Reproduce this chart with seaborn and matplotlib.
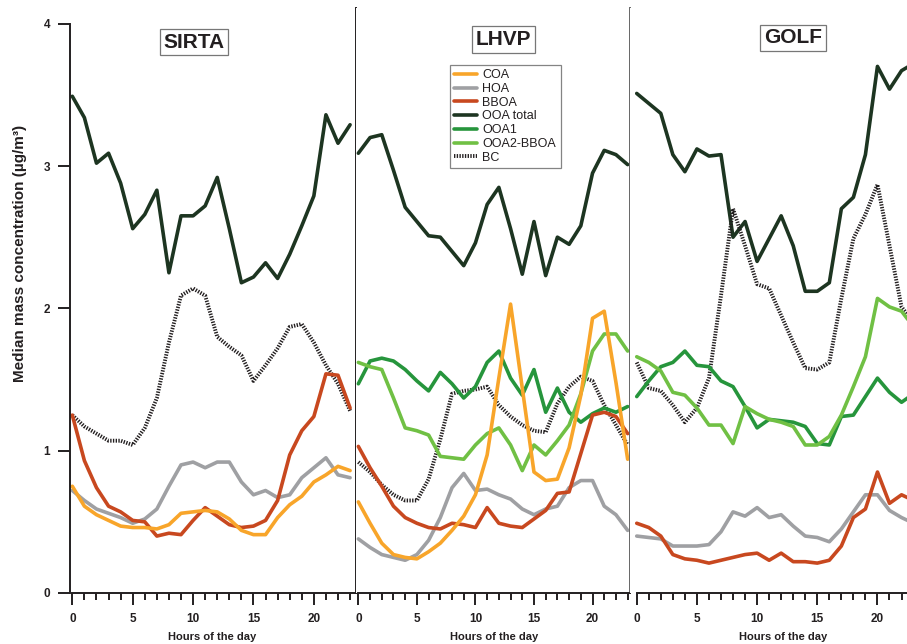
import numpy as np
import pandas as pd
import matplotlib
matplotlib.use("Agg")
import matplotlib.pyplot as plt
from matplotlib.ticker import MultipleLocator
import seaborn as sns

hours = list(range(24))

# --- SIRTA ---
sirta_coa = [0.75, 0.61, 0.55, 0.51, 0.47, 0.46, 0.46, 0.45, 0.48, 0.56, 0.57, 0.58,
             0.57, 0.52, 0.44, 0.41, 0.41, 0.53, 0.62, 0.68, 0.78, 0.83, 0.89, 0.86]
sirta_hoa = [0.72, 0.65, 0.59, 0.56, 0.53, 0.49, 0.52, 0.59, 0.75, 0.90, 0.92, 0.88,
             0.92, 0.92, 0.78, 0.69, 0.72, 0.67, 0.69, 0.81, 0.88, 0.95, 0.83, 0.81]
sirta_bboa = [1.25, 0.93, 0.74, 0.61, 0.57, 0.51, 0.50, 0.40, 0.42, 0.41, 0.51, 0.60,
              0.54, 0.48, 0.46, 0.47, 0.51, 0.65, 0.97, 1.14, 1.24, 1.54, 1.53, 1.30]
sirta_ooa = [3.49, 3.34, 3.02, 3.09, 2.88, 2.56, 2.66, 2.83, 2.25, 2.65, 2.65, 2.72,
             2.92, 2.56, 2.18, 2.22, 2.32, 2.21, 2.38, 2.58, 2.79, 3.36, 3.16, 3.29]
sirta_bc = [1.25, 1.17, 1.12, 1.07, 1.07, 1.04, 1.16, 1.37, 1.76, 2.09, 2.14, 2.09,
            1.80, 1.73, 1.67, 1.49, 1.60, 1.72, 1.87, 1.89, 1.76, 1.60, 1.47, 1.28]

# --- LHVP ---
lhvp_coa = [0.64, 0.49, 0.35, 0.27, 0.25, 0.24, 0.29, 0.35, 0.44, 0.54, 0.69, 0.97,
            1.51, 2.03, 1.44, 0.85, 0.79, 0.80, 1.02, 1.39, 1.93, 1.98, 1.48, 0.94]
lhvp_hoa = [0.38, 0.32, 0.27, 0.25, 0.23, 0.27, 0.37, 0.53, 0.74, 0.84, 0.72, 0.73,
            0.69, 0.66, 0.59, 0.55, 0.59, 0.61, 0.74, 0.79, 0.79, 0.61, 0.55, 0.44]
lhvp_bboa = [1.03, 0.88, 0.75, 0.61, 0.53, 0.49, 0.46, 0.45, 0.49, 0.48, 0.46, 0.60,
             0.49, 0.47, 0.46, 0.52, 0.58, 0.70, 0.71, 0.98, 1.25, 1.27, 1.24, 1.12]
lhvp_ooa = [3.09, 3.20, 3.22, 2.97, 2.71, 2.61, 2.51, 2.50, 2.40, 2.30, 2.46, 2.73,
            2.85, 2.56, 2.24, 2.61, 2.23, 2.50, 2.45, 2.58, 2.95, 3.11, 3.08, 3.01]
lhvp_ooa1 = [1.47, 1.63, 1.65, 1.63, 1.57, 1.49, 1.42, 1.55, 1.47, 1.37, 1.45, 1.62,
             1.70, 1.51, 1.39, 1.57, 1.27, 1.44, 1.27, 1.20, 1.26, 1.30, 1.27, 1.31]
lhvp_ooa2 = [1.62, 1.59, 1.57, 1.37, 1.16, 1.14, 1.11, 0.96, 0.95, 0.94, 1.04, 1.12,
             1.16, 1.04, 0.86, 1.04, 0.97, 1.07, 1.18, 1.40, 1.70, 1.82, 1.82, 1.70]
lhvp_bc = [0.92, 0.85, 0.76, 0.69, 0.65, 0.65, 0.80, 1.08, 1.40, 1.42, 1.43, 1.45,
           1.32, 1.24, 1.18, 1.14, 1.13, 1.33, 1.45, 1.52, 1.49, 1.32, 1.18, 1.04]

# --- GOLF ---
golf_hoa = [0.40, 0.39, 0.38, 0.33, 0.33, 0.33, 0.34, 0.43, 0.57, 0.54, 0.60, 0.53,
            0.55, 0.47, 0.40, 0.39, 0.36, 0.45, 0.57, 0.69, 0.69, 0.58, 0.53, 0.49]
golf_bboa = [0.49, 0.46, 0.40, 0.27, 0.24, 0.23, 0.21, 0.23, 0.25, 0.27, 0.28, 0.23,
             0.28, 0.22, 0.22, 0.21, 0.23, 0.33, 0.53, 0.59, 0.85, 0.63, 0.69, 0.65]
golf_ooa = [3.51, 3.44, 3.37, 3.08, 2.96, 3.12, 3.07, 3.08, 2.50, 2.61, 2.33, 2.49,
            2.65, 2.44, 2.12, 2.12, 2.18, 2.70, 2.78, 3.08, 3.70, 3.54, 3.67, 3.72]
golf_ooa1 = [1.38, 1.49, 1.59, 1.62, 1.70, 1.60, 1.59, 1.49, 1.45, 1.31, 1.16, 1.22,
             1.21, 1.20, 1.17, 1.05, 1.04, 1.24, 1.25, 1.38, 1.51, 1.41, 1.34, 1.40]
golf_ooa2 = [1.66, 1.62, 1.56, 1.41, 1.39, 1.30, 1.18, 1.18, 1.05, 1.31, 1.26, 1.22,
             1.20, 1.17, 1.04, 1.04, 1.10, 1.25, 1.45, 1.66, 2.07, 2.01, 1.98, 1.87]
golf_bc = [1.62, 1.44, 1.42, 1.32, 1.20, 1.30, 1.51, 2.09, 2.70, 2.44, 2.17, 2.14,
           1.95, 1.76, 1.58, 1.57, 1.62, 2.07, 2.49, 2.66, 2.87, 2.44, 2.01, 1.90]

colors = {
    "COA": "#F8A52A",
    "HOA": "#9FA0A3",
    "BBOA": "#C8481F",
    "OOA total": "#1D3521",
    "OOA1": "#26953C",
    "OOA2-BBOA": "#70C044",
    "BC": "#231F20",
}
legend_order = ["COA", "HOA", "BBOA", "OOA total", "OOA1", "OOA2-BBOA", "BC"]

sites = [
    ("SIRTA", {"OOA total": sirta_ooa, "BC": sirta_bc, "HOA": sirta_hoa,
               "BBOA": sirta_bboa, "COA": sirta_coa}),
    ("LHVP", {"OOA total": lhvp_ooa, "BC": lhvp_bc, "OOA1": lhvp_ooa1,
              "OOA2-BBOA": lhvp_ooa2, "HOA": lhvp_hoa, "BBOA": lhvp_bboa,
              "COA": lhvp_coa}),
    ("GOLF", {"OOA total": golf_ooa, "BC": golf_bc, "OOA1": golf_ooa1,
              "OOA2-BBOA": golf_ooa2, "HOA": golf_hoa, "BBOA": golf_bboa}),
]

# per-panel layout tweaks
xlims = [(-0.19, 23.49), (-0.2, 23.2), (-0.56, 23.2)]
title_pos = [(10.07, 3.87), (12.37, 3.89), (12.97, 3.90)]
xlabel_x = [0.498, 0.503, 0.537]

sns.set_style("ticks")
plt.rcParams["font.family"] = ["Liberation Sans", "DejaVu Sans"]
ink = "#231F20"
spine_w = 1.4

fig, axes = plt.subplots(1, 3, figsize=(9.07, 6.44), dpi=100, sharey=True,
                         gridspec_kw=dict(width_ratios=[286, 274, 286], wspace=0))
fig.subplots_adjust(left=0.0772, right=1.0099, bottom=0.0792, top=0.9875)

for i, (ax, (site, series)) in enumerate(zip(axes, sites)):
    for name, vals in series.items():
        df = pd.DataFrame({"hour": hours, "value": vals})
        kw = dict(color=colors[name], lw=2.6)
        if name == "BC":
            kw.update(linestyle=(0, (0.35, 0.35)), lw=2.8)
        sns.lineplot(data=df, x="hour", y="value", ax=ax, label=name,
                     legend=False, **kw)

    ax.set_xlim(*xlims[i])
    ax.set_ylim(0, 4.11)
    ax.xaxis.set_major_locator(MultipleLocator(5))
    ax.xaxis.set_minor_locator(MultipleLocator(1))
    ax.tick_params(axis="x", which="major", length=8.5, width=spine_w, colors=ink,
                   labelsize=8.5, pad=6)
    ax.tick_params(axis="x", which="minor", length=5, width=spine_w, colors=ink)
    ax.spines["top"].set_visible(False)
    ax.spines["bottom"].set_bounds(0, xlims[i][1])
    ax.spines["bottom"].set_linewidth(spine_w)
    ax.spines["bottom"].set_color(ink)
    ax.set_xlabel("Hours of the day", fontsize=8, fontweight="bold", color=ink)
    ax.xaxis.set_label_coords(xlabel_x[i], -0.067)
    for lab in ax.get_xticklabels():
        lab.set_fontweight("bold")

    ax.text(title_pos[i][0], title_pos[i][1], site, fontsize=15, fontweight="bold",
            color=ink, ha="center", va="center",
            bbox=dict(boxstyle="square,pad=0.18", fc="white", ec="#777777", lw=0.9))

    if i == 0:
        ax.set_yticks([0, 1, 2, 3, 4])
        ax.tick_params(axis="y", length=8.5, width=spine_w, colors=ink,
                       labelsize=8.5, pad=6)
        for lab in ax.get_yticklabels():
            lab.set_fontweight("bold")
        ax.spines["left"].set_bounds(0, 4)
        ax.spines["left"].set_linewidth(spine_w)
        ax.spines["left"].set_color(ink)
        ax.spines["right"].set_color(ink)
        ax.spines["right"].set_linewidth(spine_w)
        ax.set_ylabel("Median mass concentration (µg/m³)", fontsize=11,
                      fontweight="bold", color=ink)
        ax.yaxis.set_label_coords(-0.15, 0.58)
    else:
        ax.spines["left"].set_visible(False)
        ax.tick_params(axis="y", left=False, labelleft=False)
        ax.set_ylabel("")
        if i == 1:
            ax.spines["right"].set_color("#666666")
            ax.spines["right"].set_linewidth(spine_w)
        else:
            ax.spines["right"].set_visible(False)

# legend sits in the LHVP panel
handles = {l.get_label(): l for l in axes[1].get_lines()}
leg = axes[1].legend([handles[n] for n in legend_order], legend_order,
                     loc="upper left", bbox_to_anchor=(0.343, 0.903),
                     borderaxespad=0, fontsize=9, frameon=True, fancybox=False,
                     handlelength=1.8, handletextpad=0.45, labelspacing=0.14,
                     borderpad=0.35)
leg.get_frame().set_edgecolor("#666666")
leg.get_frame().set_linewidth(0.9)
for t in leg.get_texts():
    t.set_color(ink)

plt.savefig("out.png", dpi=100)
print("saved out.png")
